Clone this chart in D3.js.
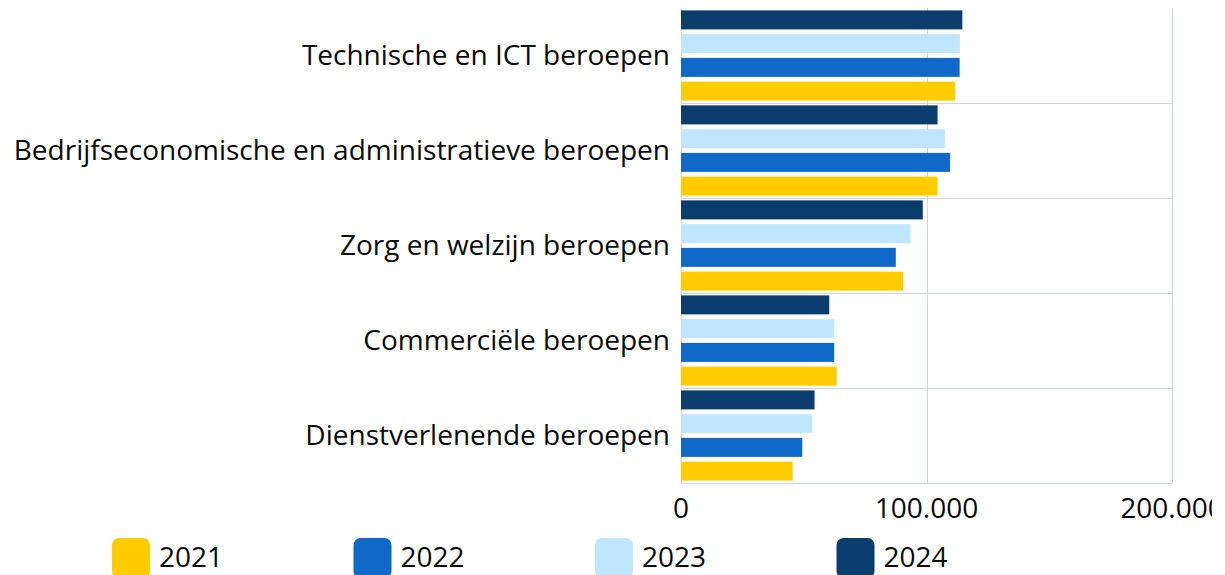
<!DOCTYPE html>
<html>
<head>
<meta charset="utf-8">
<script src="https://cdn.jsdelivr.net/npm/d3@7"></script>
<style>
  html, body { margin: 0; padding: 0; background: #fff; }
  svg { display: block; }
</style>
</head>
<body>
<div id="chart"></div>
<script>
(function () {
  'use strict';

  // --- Data ---
  var categories = [
    'Technische en ICT beroepen',
    'Bedrijfseconomische en administratieve beroepen',
    'Zorg en welzijn beroepen',
    'Commerciële beroepen',
    'Dienstverlenende beroepen'
  ];
  var years = ['2021', '2022', '2023', '2024'];
  var values2021 = [111600, 104500, 90500, 63400, 45500];
  var values2022 = [113500, 109600, 87500, 62400, 49400];
  var values2023 = [113600, 107500, 93500, 62400, 53500];
  var values2024 = [114600, 104500, 98500, 60400, 54400];
  var xTicks = [0, 100000, 200000];

  var seriesValues = {
    '2021': values2021, '2022': values2022,
    '2023': values2023, '2024': values2024
  };

  // --- Colors ---
  var colors = {
    '2021': '#FFCC00',
    '2022': '#1069C9',
    '2023': '#C0E6FD',
    '2024': '#0A3D6B'
  };
  var gridColor = '#CDD4DE';
  var textColor = '#0a0a0a';
  var fontFamily = '"Segoe UI", "Open Sans", "Noto Sans", sans-serif';
  var fontSize = 28;

  // svg is a bit narrower than the window: the last tick label gets clipped
  var width = 1212, height = 575;
  var plot = { left: 681, right: 1172, top: 8, bottom: 483 };

  var nl = d3.formatLocale({ decimal: ',', thousands: '.', grouping: [3], currency: ['€', ''] });
  var fmt = nl.format(',d');

  var svg = d3.select('#chart').append('svg')
    .attr('width', width)
    .attr('height', height)
    .attr('font-family', fontFamily);

  var x = d3.scaleLinear().domain([0, 200000]).range([plot.left, plot.right]);
  var y0 = d3.scaleBand().domain(categories).range([plot.top, plot.bottom]).padding(0);
  // bars stack top-to-bottom: 2024, 2023, 2022, 2021
  var y1 = d3.scaleBand().domain(years.slice().reverse())
    .range([0, y0.bandwidth()]).paddingInner(0.2).paddingOuter(0.1);

  // --- Grid ---
  var grid = svg.append('g').attr('stroke', gridColor).attr('stroke-width', 1);
  categories.slice(1).forEach(function (c) {
    grid.append('line')
      .attr('x1', plot.left).attr('x2', plot.right)
      .attr('y1', Math.round(y0(c)) + 0.5).attr('y2', Math.round(y0(c)) + 0.5);
  });
  grid.append('line')
    .attr('x1', plot.left).attr('x2', plot.right)
    .attr('y1', plot.bottom + 0.5).attr('y2', plot.bottom + 0.5);
  xTicks.forEach(function (t) {
    grid.append('line')
      .attr('x1', Math.round(x(t)) + 0.5).attr('x2', Math.round(x(t)) + 0.5)
      .attr('y1', plot.top).attr('y2', plot.bottom);
  });

  // --- Bars ---
  var groups = svg.append('g').selectAll('g')
    .data(categories)
    .join('g')
    .attr('transform', function (c) { return 'translate(0,' + y0(c) + ')'; });

  groups.selectAll('rect')
    .data(function (c, i) {
      return years.map(function (yr) { return { year: yr, value: seriesValues[yr][i] }; });
    })
    .join('rect')
    .attr('x', x(0))
    .attr('y', function (d) { return y1(d.year); })
    .attr('width', function (d) { return x(d.value) - x(0); })
    .attr('height', y1.bandwidth())
    .attr('fill', function (d) { return colors[d.year]; });

  // --- Category labels ---
  svg.append('g').selectAll('text')
    .data(categories)
    .join('text')
    .attr('x', 670)
    .attr('y', function (c) { return y0(c) + y0.bandwidth() / 2; })
    .attr('dy', '0.35em')
    .attr('text-anchor', 'end')
    .attr('font-size', fontSize)
    .attr('fill', textColor)
    .text(function (c) { return c; });

  // --- X tick labels ---
  svg.append('g').selectAll('text')
    .data(xTicks)
    .join('text')
    .attr('x', function (t) { return x(t); })
    .attr('y', 508)
    .attr('dy', '0.35em')
    .attr('text-anchor', 'middle')
    .attr('font-size', fontSize)
    .attr('fill', textColor)
    .text(function (t) { return fmt(t); });

  // --- Legend ---
  var legend = svg.append('g').selectAll('g')
    .data(years)
    .join('g')
    .attr('transform', function (d, i) { return 'translate(' + (112 + i * 241.5) + ',538)'; });

  legend.append('rect')
    .attr('width', 38).attr('height', 40)
    .attr('rx', 7).attr('ry', 7)
    .attr('fill', function (d) { return colors[d]; });

  legend.append('text')
    .attr('x', 47)
    .attr('y', 19)
    .attr('dy', '0.35em')
    .attr('font-size', fontSize)
    .attr('fill', textColor)
    .text(function (d) { return d; });
})();
</script>
</body>
</html>
